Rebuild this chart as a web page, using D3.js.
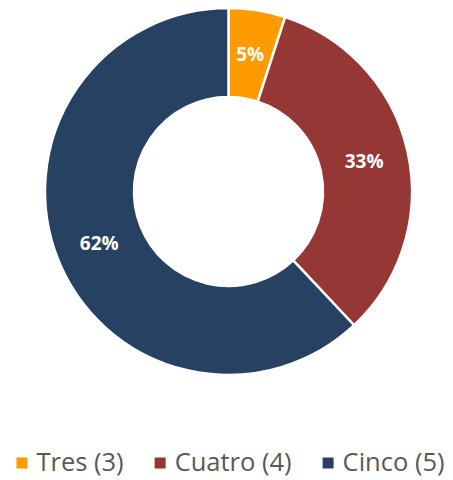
<!DOCTYPE html>
<html>
<head>
<meta charset="utf-8">
<script src="https://cdn.jsdelivr.net/npm/d3@7"></script>
<style>
  html, body { margin: 0; padding: 0; background: #fff; }
  svg { display: block; }
</style>
</head>
<body>
<svg id="chart" width="453" height="480"></svg>
<script>
// Share of responses by rating
const categories = ["Tres (3)", "Cuatro (4)", "Cinco (5)"];
const values = [5, 33, 62];
const colors = ["#FF9A00", "#953735", "#264162"];

const width = 453, height = 480;
const cx = 228.5, cy = 191.5;
const outerR = 183.5, innerR = 94.5;

const svg = d3.select("#chart");

const pie = d3.pie().sort(null).value(d => d.value);
const arcs = pie(categories.map((c, i) => ({ name: c, value: values[i], color: colors[i] })));
const arc = d3.arc().innerRadius(innerR).outerRadius(outerR);

const g = svg.append("g").attr("transform", `translate(${cx},${cy})`);

g.selectAll("path.slice")
  .data(arcs)
  .join("path")
  .attr("class", "slice")
  .attr("d", arc)
  .attr("fill", d => d.data.color)
  .attr("stroke", "#fff")
  .attr("stroke-width", 2.5)
  .attr("stroke-linejoin", "round");

const total = d3.sum(values);
g.selectAll("text.lbl")
  .data(arcs)
  .join("text")
  .attr("class", "lbl")
  .attr("x", d => arc.centroid(d)[0])
  .attr("y", d => arc.centroid(d)[1])
  .attr("dy", "0.36em")
  .attr("text-anchor", "middle")
  .attr("font-family", "'Open Sans', sans-serif")
  .attr("font-weight", "bold")
  .attr("font-size", 19)
  .attr("fill", "#fff")
  .text(d => Math.round(d.data.value / total * 100) + "%");

// Legend along the bottom, centred under the chart
const legend = svg.append("g");
const sq = 11, gapText = 9, gapItem = 31;
const items = legend.selectAll("g.item")
  .data(categories)
  .join("g")
  .attr("class", "item");

items.append("rect")
  .attr("width", sq).attr("height", sq)
  .attr("y", 457.5)
  .attr("fill", (d, i) => colors[i]);

items.append("text")
  .attr("y", 471)
  .attr("font-family", "'Open Sans', sans-serif")
  .attr("font-size", 25.5)
  .attr("fill", "#595959")
  .text(d => d);

let x = 0;
items.each(function () {
  const it = d3.select(this);
  it.select("rect").attr("x", x);
  it.select("text").attr("x", x + sq + gapText);
  const w = it.select("text").node().getComputedTextLength();
  x += sq + gapText + w + gapItem;
});
const legendW = x - gapItem;
legend.attr("transform", `translate(${(14 + 447) / 2 - legendW / 2},0)`);
</script>
</body>
</html>
